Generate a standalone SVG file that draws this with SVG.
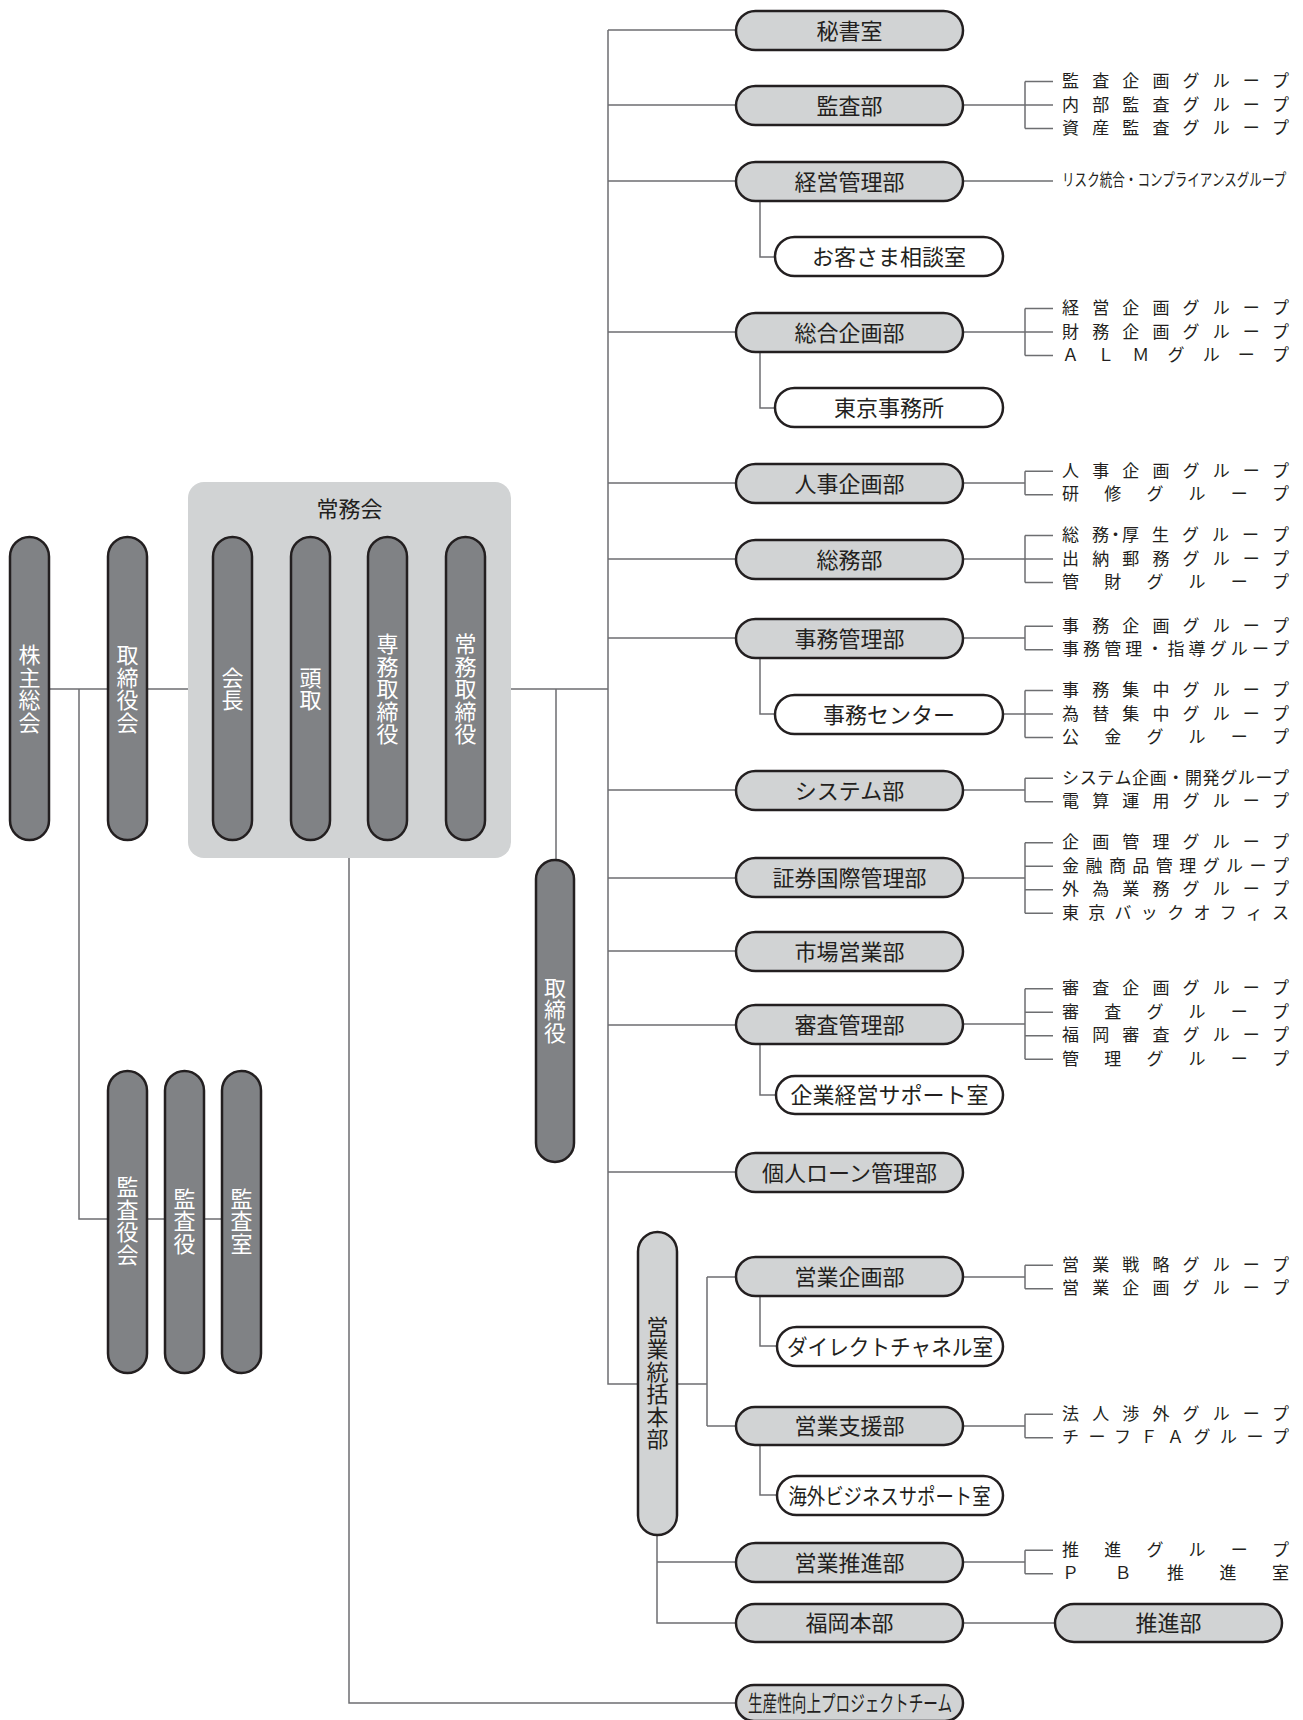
<svg xmlns="http://www.w3.org/2000/svg" width="1303" height="1720" viewBox="0 0 1303 1720">
<style>
.ln{stroke:#6d6e71;stroke-width:1.5;fill:none}
.pd{fill:#808285;stroke:#231f20;stroke-width:2.5}
.pl{fill:#d1d3d4;stroke:#231f20;stroke-width:2.5}
.pw{fill:#ffffff;stroke:#231f20;stroke-width:2.5}
text{font-family:"Noto Sans CJK JP","Noto Sans CJK SC",sans-serif;fill:#231f20;dominant-baseline:central}
.t{font-size:22px;text-anchor:middle}
.v{font-size:22px;text-anchor:middle;writing-mode:vertical-rl;letter-spacing:0.5px}
.tw{fill:#ffffff}
.g{font-size:17px;text-anchor:start}
</style>
<rect x="0" y="0" width="1303" height="1720" fill="#ffffff"/>
<g id="connectors">
<path class="ln" d="M49 689H108M147 689H188M511 689H608M79 689V1219H108M147 1219H165M204 1219H222M349 858V1703H736M556 689V860M608 30V1384H638"/>
<path class="ln" d="M608 30H736M608 105H736M608 181H736M608 332H736M608 483H736M608 559H736M608 638H736M608 790H736M608 878H736M608 951H736M608 1025H736M608 1172H736"/>
<path class="ln" d="M760 201V257H775M760 352V408H775M760 658V714H775M760 1044V1095H776M760 1296V1346H777M760 1445V1495H777"/>
<path class="ln" d="M677 1384H707M707 1277V1426M707 1277H736M707 1426H736M657 1535V1623H736M657 1562H736M963 1623H1055"/>
<path class="ln" d="M963 105H1025M1025 81.5V128.5M1025 81.5H1053M1025 105H1053M1025 128.5H1053"/>
<path class="ln" d="M963 181H1053"/>
<path class="ln" d="M963 332H1025M1025 308.5V355.5M1025 308.5H1053M1025 332H1053M1025 355.5H1053"/>
<path class="ln" d="M963 483H1025M1025 471.25V494.75M1025 471.25H1053M1025 494.75H1053"/>
<path class="ln" d="M963 559H1025M1025 535.5V582.5M1025 535.5H1053M1025 559H1053M1025 582.5H1053"/>
<path class="ln" d="M963 638H1025M1025 626.25V649.75M1025 626.25H1053M1025 649.75H1053"/>
<path class="ln" d="M1003 714H1025M1025 690.5V737.5M1025 690.5H1053M1025 714H1053M1025 737.5H1053"/>
<path class="ln" d="M963 790H1025M1025 778.25V801.75M1025 778.25H1053M1025 801.75H1053"/>
<path class="ln" d="M963 878H1025M1025 842.75V913.25M1025 842.75H1053M1025 866.25H1053M1025 889.75H1053M1025 913.25H1053"/>
<path class="ln" d="M963 1024H1025M1025 988.75V1059.25M1025 988.75H1053M1025 1012.25H1053M1025 1035.75H1053M1025 1059.25H1053"/>
<path class="ln" d="M963 1277H1025M1025 1265.25V1288.75M1025 1265.25H1053M1025 1288.75H1053"/>
<path class="ln" d="M963 1426H1025M1025 1414.25V1437.75M1025 1414.25H1053M1025 1437.75H1053"/>
<path class="ln" d="M963 1562H1025M1025 1550.25V1573.75M1025 1550.25H1053M1025 1573.75H1053"/>
</g>
<g id="jomukai"><rect x="188" y="482" width="323" height="376" rx="16" fill="#d1d3d4"/><text class="t" x="349.5" y="507">常務会</text></g>
<g id="kabunushi"><rect class="pd" x="10" y="537" width="39" height="303" rx="19.5"/><text class="v tw" x="29.5" y="689">株主総会</text></g>
<g id="torishimariyakukai"><rect class="pd" x="108" y="537" width="39" height="303" rx="19.5"/><text class="v tw" x="127.5" y="689">取締役会</text></g>
<g id="kaicho"><rect class="pd" x="213" y="537" width="39" height="303" rx="19.5"/><text class="v tw" x="232.5" y="689">会長</text></g>
<g id="todori"><rect class="pd" x="291" y="537" width="39" height="303" rx="19.5"/><text class="v tw" x="310.5" y="689">頭取</text></g>
<g id="senmu"><rect class="pd" x="368" y="537" width="39" height="303" rx="19.5"/><text class="v tw" x="387.5" y="689">専務取締役</text></g>
<g id="jomu"><rect class="pd" x="446" y="537" width="39" height="303" rx="19.5"/><text class="v tw" x="465.5" y="689">常務取締役</text></g>
<g id="torishimariyaku"><rect class="pd" x="536" y="860" width="38" height="302" rx="19"/><text class="v tw" x="555" y="1010">取締役</text></g>
<g id="kansayakukai"><rect class="pd" x="108" y="1071" width="39" height="302" rx="19.5"/><text class="v tw" x="127.5" y="1221">監査役会</text></g>
<g id="kansayaku"><rect class="pd" x="165" y="1071" width="39" height="302" rx="19.5"/><text class="v tw" x="184.5" y="1221">監査役</text></g>
<g id="kansashitsu"><rect class="pd" x="222" y="1071" width="39" height="302" rx="19.5"/><text class="v tw" x="241.5" y="1221">監査室</text></g>
<g id="eigyotokatsu"><rect class="pl" x="638" y="1232" width="39" height="303" rx="19.5"/><text class="v" x="657.5" y="1383">営業統括本部</text></g>
<g id="hishoshitsu"><rect class="pl" x="736" y="11" width="227" height="39" rx="19.5"/><text class="t" x="849.5" y="28.5">秘書室</text></g>
<g id="kansabu"><rect class="pl" x="736" y="86" width="227" height="39" rx="19.5"/><text class="t" x="849.5" y="103.5">監査部</text></g>
<g id="keieikanribu"><rect class="pl" x="736" y="162" width="227" height="39" rx="19.5"/><text class="t" x="849.5" y="179.5">経営管理部</text></g>
<g id="okyakusama"><rect class="pw" x="775" y="237" width="228" height="39" rx="19.5"/><text class="t" x="889" y="254.5">お客さま相談室</text></g>
<g id="sogokikakubu"><rect class="pl" x="736" y="313" width="227" height="39" rx="19.5"/><text class="t" x="849.5" y="330.5">総合企画部</text></g>
<g id="tokyojimusho"><rect class="pw" x="775" y="388" width="228" height="39" rx="19.5"/><text class="t" x="889" y="405.5">東京事務所</text></g>
<g id="jinjikikakubu"><rect class="pl" x="736" y="464" width="227" height="39" rx="19.5"/><text class="t" x="849.5" y="481.5">人事企画部</text></g>
<g id="somubu"><rect class="pl" x="736" y="540" width="227" height="39" rx="19.5"/><text class="t" x="849.5" y="557.5">総務部</text></g>
<g id="jimukanribu"><rect class="pl" x="736" y="619" width="227" height="39" rx="19.5"/><text class="t" x="849.5" y="636.5">事務管理部</text></g>
<g id="jimucenter"><rect class="pw" x="775" y="695" width="228" height="39" rx="19.5"/><text class="t" x="889" y="712.5">事務センター</text></g>
<g id="systembu"><rect class="pl" x="736" y="771" width="227" height="39" rx="19.5"/><text class="t" x="849.5" y="788.5">システム部</text></g>
<g id="shokenkokusai"><rect class="pl" x="736" y="858" width="227" height="39" rx="19.5"/><text class="t" x="849.5" y="875.5">証券国際管理部</text></g>
<g id="shijoeigyobu"><rect class="pl" x="736" y="932" width="227" height="39" rx="19.5"/><text class="t" x="849.5" y="949.5">市場営業部</text></g>
<g id="shinsakanribu"><rect class="pl" x="736" y="1005" width="227" height="39" rx="19.5"/><text class="t" x="849.5" y="1022.5">審査管理部</text></g>
<g id="kigyokeiei"><rect class="pw" x="776" y="1076" width="227" height="38" rx="19"/><text class="t" x="889.5" y="1093">企業経営サポート室</text></g>
<g id="kojinloan"><rect class="pl" x="736" y="1153" width="227" height="39" rx="19.5"/><text class="t" x="849.5" y="1170.5">個人ローン管理部</text></g>
<g id="eigyokikakubu"><rect class="pl" x="736" y="1257" width="227" height="39" rx="19.5"/><text class="t" x="849.5" y="1274.5">営業企画部</text></g>
<g id="directchannel"><rect class="pw" x="777" y="1327" width="226" height="39" rx="19.5"/><text class="t" x="890" y="1344.5" textLength="206" lengthAdjust="spacingAndGlyphs">ダイレクトチャネル室</text></g>
<g id="eigyoshienbu"><rect class="pl" x="736" y="1407" width="227" height="38" rx="19"/><text class="t" x="849.5" y="1424">営業支援部</text></g>
<g id="kaigaibusiness"><rect class="pw" x="777" y="1476" width="226" height="39" rx="19.5"/><text class="t" x="889.5" y="1493.5" textLength="202" lengthAdjust="spacingAndGlyphs">海外ビジネスサポート室</text></g>
<g id="eigyosuishinbu"><rect class="pl" x="736" y="1543" width="227" height="39" rx="19.5"/><text class="t" x="849.5" y="1560.5">営業推進部</text></g>
<g id="fukuokahonbu"><rect class="pl" x="736" y="1604" width="227" height="38" rx="19"/><text class="t" x="849.5" y="1621">福岡本部</text></g>
<g id="suishinbu"><rect class="pl" x="1055" y="1604" width="227" height="38" rx="19"/><text class="t" x="1168.5" y="1621">推進部</text></g>
<g id="seisansei"><rect class="pl" x="736" y="1685" width="227" height="36" rx="18"/><text class="t" x="850" y="1701" textLength="204" lengthAdjust="spacingAndGlyphs">生産性向上プロジェクトチーム</text></g>
<g id="groups">
<text class="g" x="1062" y="79.5" textLength="227" lengthAdjust="spacing">監査企画グループ</text>
<text class="g" x="1062" y="103" textLength="227" lengthAdjust="spacing">内部監査グループ</text>
<text class="g" x="1062" y="126.5" textLength="227" lengthAdjust="spacing">資産監査グループ</text>
<g transform="translate(1062,179) scale(0.74,1)"><text class="g" x="0" y="0">リスク統合・コンプライアンスグループ</text></g>
<text class="g" x="1062" y="306.5" textLength="227" lengthAdjust="spacing">経営企画グループ</text>
<text class="g" x="1062" y="330" textLength="227" lengthAdjust="spacing">財務企画グループ</text>
<text class="g" x="1062" y="353.5" textLength="227" lengthAdjust="spacing">ＡＬＭグループ</text>
<text class="g" x="1062" y="469.25" textLength="227" lengthAdjust="spacing">人事企画グループ</text>
<text class="g" x="1062" y="492.75" textLength="227" lengthAdjust="spacing">研修グループ</text>
<text class="g" x="1062 1092 1107 1122 1152 1182 1212 1242 1272" y="533.5">総務・厚生グループ</text>
<text class="g" x="1062" y="557" textLength="227" lengthAdjust="spacing">出納郵務グループ</text>
<text class="g" x="1062" y="580.5" textLength="227" lengthAdjust="spacing">管財グループ</text>
<text class="g" x="1062" y="624.25" textLength="227" lengthAdjust="spacing">事務企画グループ</text>
<text class="g" x="1062" y="647.75" textLength="227" lengthAdjust="spacing">事務管理・指導グループ</text>
<text class="g" x="1062" y="688.5" textLength="227" lengthAdjust="spacing">事務集中グループ</text>
<text class="g" x="1062" y="712" textLength="227" lengthAdjust="spacing">為替集中グループ</text>
<text class="g" x="1062" y="735.5" textLength="227" lengthAdjust="spacing">公金グループ</text>
<text class="g" x="1062" y="776.25" textLength="227" lengthAdjust="spacing">システム企画・開発グループ</text>
<text class="g" x="1062" y="799.75" textLength="227" lengthAdjust="spacing">電算運用グループ</text>
<text class="g" x="1062" y="840.75" textLength="227" lengthAdjust="spacing">企画管理グループ</text>
<text class="g" x="1062" y="864.25" textLength="227" lengthAdjust="spacing">金融商品管理グループ</text>
<text class="g" x="1062" y="887.75" textLength="227" lengthAdjust="spacing">外為業務グループ</text>
<text class="g" x="1062" y="911.25" textLength="227" lengthAdjust="spacing">東京バックオフィス</text>
<text class="g" x="1062" y="986.75" textLength="227" lengthAdjust="spacing">審査企画グループ</text>
<text class="g" x="1062" y="1010.25" textLength="227" lengthAdjust="spacing">審査グループ</text>
<text class="g" x="1062" y="1033.75" textLength="227" lengthAdjust="spacing">福岡審査グループ</text>
<text class="g" x="1062" y="1057.25" textLength="227" lengthAdjust="spacing">管理グループ</text>
<text class="g" x="1062" y="1263.25" textLength="227" lengthAdjust="spacing">営業戦略グループ</text>
<text class="g" x="1062" y="1286.75" textLength="227" lengthAdjust="spacing">営業企画グループ</text>
<text class="g" x="1062" y="1412.25" textLength="227" lengthAdjust="spacing">法人渉外グループ</text>
<text class="g" x="1062" y="1435.75" textLength="227" lengthAdjust="spacing">チーフＦＡグループ</text>
<text class="g" x="1062" y="1548.25" textLength="227" lengthAdjust="spacing">推進グループ</text>
<text class="g" x="1062" y="1571.75" textLength="227" lengthAdjust="spacing">ＰＢ推進室</text>
</g>
</svg>
